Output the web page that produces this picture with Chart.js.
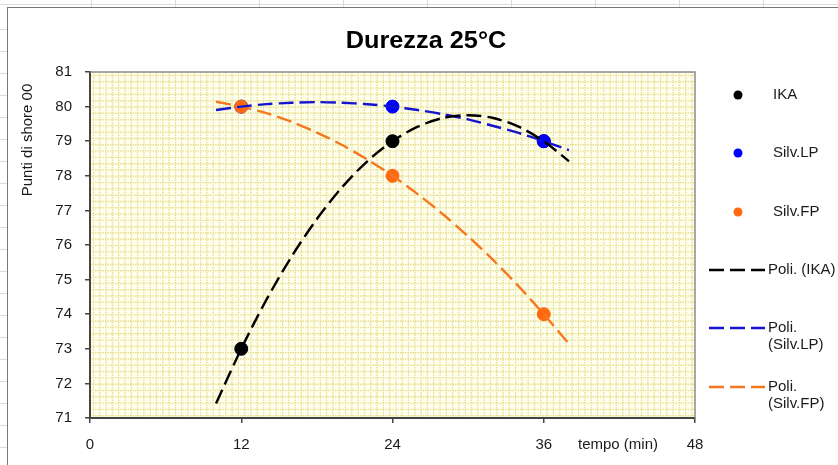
<!DOCTYPE html>
<html>
<head>
<meta charset="utf-8">
<script src="https://cdn.jsdelivr.net/npm/chart.js@4.4.0/dist/chart.umd.min.js"></script>
<style>
html, body { margin: 0; padding: 0; width: 838px; height: 465px; overflow: hidden; }
body {
    background-color: #fff;
    background-image: repeating-linear-gradient(to right, transparent 0 83px, #d8dadd 83px 84px),
                      repeating-linear-gradient(to bottom, transparent 0 21px, #d8dadd 21px 22px);
    background-position: 8px 0, 0 8px;
}
#box { position: absolute; left: 7px; top: 7px; width: 840px; height: 470px; background: #fff;
       border-left: 1px solid #777; border-top: 1px solid #777; }
#chartDurezza { position: absolute; left: 0; top: 0; }
</style>
</head>
<body>
<div id="box"></div>
<canvas id="chartDurezza" width="838" height="465"></canvas>
<script>
// misure
const tempi = [12, 24, 36];
const ika = [73, 79, 79];
const silvLP = [80, 80, 79];
const silvFP = [80, 78, 74];

// linee di tendenza (poli. 2° grado)
const tempiTrend = [10, 12, 14, 16, 18, 20, 22, 24, 26, 28, 30, 32, 34, 36, 38];
const trendIKA = [71.42, 73, 74.42, 75.67, 76.75, 77.67, 78.42, 79, 79.42, 79.67, 79.75, 79.67, 79.42, 79, 78.42];
const trendLP = [79.90, 80, 80.07, 80.11, 80.13, 80.11, 80.07, 80, 79.90, 79.78, 79.63, 79.44, 79.24, 79, 78.74];
const trendFP = [80.14, 80, 79.81, 79.56, 79.25, 78.89, 78.47, 78, 77.47, 76.89, 76.25, 75.56, 74.81, 74, 73.14];

const titolo = 'Durezza 25°C';
const titoloY = 'Punti di shore 00';
const titoloX = 'tempo (min)';

const punti = (xs, ys) => xs.map((x, i) => ({ x: x, y: ys[i] }));
const FONT = "'Liberation Sans', Arial, sans-serif";

Chart.defaults.font.family = FONT;
Chart.defaults.font.size = 15;
Chart.defaults.color = '#1a1a1a';

// sfondo a griglia gialla stile Excel
const sfondo = {
    id: 'sfondo',
    beforeDraw(chart) {
        const { ctx, chartArea: a } = chart;
        ctx.save();
        ctx.fillStyle = '#fffff0';
        ctx.fillRect(a.left, a.top, a.width, a.height);
        ctx.strokeStyle = '#e9df92';
        ctx.lineWidth = 1.4;
        ctx.setLineDash([1.5, 1]);
        ctx.beginPath();
        for (let x = a.left + 3.5; x < a.right; x += 6.3) {
            ctx.moveTo(x, a.top); ctx.lineTo(x, a.bottom);
        }
        for (let y = a.top + 3.5; y < a.bottom; y += 6.3) {
            ctx.moveTo(a.left, y); ctx.lineTo(a.right, y);
        }
        ctx.stroke();
        ctx.restore();
    }
};

// titoli, bordo e legenda
const testi = {
    id: 'testi',
    afterDraw(chart) {
        const { ctx, chartArea: a } = chart;
        ctx.save();
        // bordo area del tracciato
        ctx.strokeStyle = '#8a8a8a';
        ctx.lineWidth = 1.5;
        ctx.beginPath();
        ctx.moveTo(a.left, a.top); ctx.lineTo(a.right, a.top); ctx.lineTo(a.right, a.bottom);
        ctx.stroke();

        ctx.fillStyle = '#000';
        ctx.textAlign = 'center';
        ctx.textBaseline = 'middle';
        ctx.save();
        ctx.translate(426, 42);
        ctx.scale(1.1, 1);
        ctx.font = 'bold 23px ' + FONT;
        ctx.fillText(titolo, 0, 0);
        ctx.restore();

        ctx.fillStyle = '#1a1a1a';
        ctx.font = '15px ' + FONT;
        ctx.fillText(titoloX, 618, 445);
        ctx.save();
        ctx.translate(28, 140);
        ctx.rotate(-Math.PI / 2);
        ctx.fillText(titoloY, 0, 0);
        ctx.restore();

        // legenda
        const legY = [95, 153, 212, 270, 328, 387];
        ctx.textAlign = 'left';
        chart.data.datasets.forEach((ds, i) => {
            const y = legY[i];
            let tx;
            if (ds.showLine) {
                ctx.strokeStyle = ds.borderColor;
                ctx.lineWidth = ds.borderWidth;
                ctx.setLineDash(ds.borderDash);
                ctx.beginPath();
                ctx.moveTo(709, y); ctx.lineTo(765, y);
                ctx.stroke();
                ctx.setLineDash([]);
                tx = 768;
            } else {
                ctx.fillStyle = ds.backgroundColor;
                ctx.beginPath();
                ctx.arc(738, y, 4.5, 0, Math.PI * 2);
                ctx.fill();
                tx = 773;
            }
            ctx.fillStyle = '#1a1a1a';
            const label = ds.label;
            if (ctx.measureText(label).width > 72) {
                const k = label.indexOf(' ');
                ctx.fillText(label.slice(0, k), tx, y);
                ctx.fillText(label.slice(k + 1), tx, y + 17);
            } else {
                ctx.fillText(label, tx, y);
            }
        });
        ctx.restore();
    }
};

const ctxDurezza = document.getElementById('chartDurezza').getContext('2d');
const chartDurezza = new Chart(ctxDurezza, {
    type: 'scatter',
    data: {
        datasets: [
            { label: 'IKA', data: punti(tempi, ika), backgroundColor: '#000000', borderColor: '#000000',
              pointRadius: 6.5, order: 4 },
            { label: 'Silv.LP', data: punti(tempi, silvLP), backgroundColor: '#0000ff', borderColor: '#0000ff',
              pointRadius: 6.5, order: 3 },
            { label: 'Silv.FP', data: punti(tempi, silvFP), backgroundColor: '#ff6a10', borderColor: '#ff6a10',
              pointRadius: 6.5, order: 2 },
            { label: 'Poli. (IKA)', data: punti(tempiTrend, trendIKA), showLine: true, pointRadius: 0,
              borderColor: '#000000', borderWidth: 2.4, borderDash: [15, 6], tension: 0.3, order: 0 },
            { label: 'Poli. (Silv.LP)', data: punti(tempiTrend, trendLP), showLine: true, pointRadius: 0,
              borderColor: '#1414cc', borderWidth: 2.4, borderDash: [15, 6], tension: 0.3, order: 0 },
            { label: 'Poli. (Silv.FP)', data: punti(tempiTrend, trendFP), showLine: true, pointRadius: 0,
              borderColor: '#f5781e', borderWidth: 2.4, borderDash: [15, 6], tension: 0.3, order: 0 }
        ]
    },
    options: {
        responsive: false,
        animation: false,
        events: [],
        layout: { padding: { top: 72, right: 143, bottom: 0, left: 0 } },
        plugins: { legend: { display: false }, title: { display: false }, tooltip: { enabled: false } },
        scales: {
            x: {
                type: 'linear', min: 0, max: 48,
                ticks: { stepSize: 12, padding: 13, color: '#1a1a1a' },
                grid: { drawOnChartArea: false, drawTicks: true, tickLength: 5, color: '#444', lineWidth: 1.5 },
                border: { color: '#444', width: 2 },
                afterFit(scale) { scale.height = 47; }
            },
            y: {
                min: 71, max: 81,
                ticks: { stepSize: 1, padding: 13, color: '#1a1a1a' },
                grid: { drawOnChartArea: false, drawTicks: true, tickLength: 5, color: '#444', lineWidth: 1.5 },
                border: { color: '#444', width: 2 },
                afterFit(scale) { scale.width = 90; }
            }
        }
    },
    plugins: [sfondo, testi]
});
</script>
</body>
</html>
